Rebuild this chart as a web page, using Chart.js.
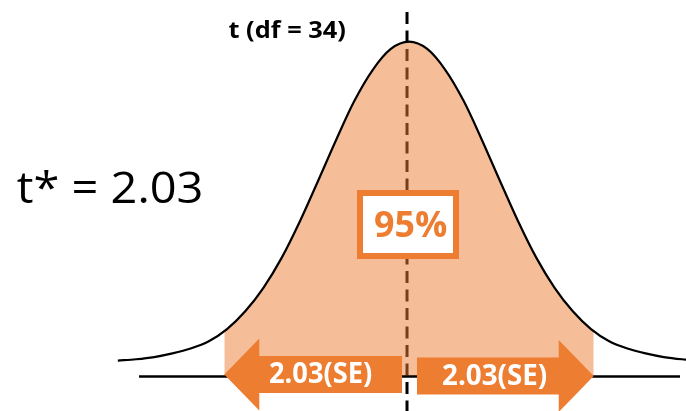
<!DOCTYPE html>
<html>
<head>
<meta charset="utf-8">
<script src="https://cdn.jsdelivr.net/npm/chart.js@4.4.1/dist/chart.umd.min.js"></script>
<style>
  html, body { margin: 0; padding: 0; background: #fff; }
  canvas { display: block; }
</style>
</head>
<body>
<canvas id="grafico" width="686" height="411"></canvas>
<script>
// t distribution, df = 34
const curveT = [-3.2, -3.0, -2.8, -2.6, -2.4, -2.2, -2.0, -1.8, -1.6, -1.4, -1.2, -1.0, -0.8, -0.6, -0.4, -0.2,
                0, 0.2, 0.4, 0.6, 0.8, 1.0, 1.2, 1.4, 1.6, 1.8, 2.0, 2.2, 2.4, 2.6, 2.8, 3.0, 3.2];
const curveDensity = [0.0012, 0.0028, 0.0055, 0.010, 0.016, 0.025, 0.040, 0.062, 0.091, 0.128, 0.173, 0.223, 0.274, 0.322, 0.360, 0.386,
                      0.395, 0.386, 0.360, 0.322, 0.274, 0.223, 0.173, 0.128, 0.091, 0.062, 0.040, 0.025, 0.016, 0.010, 0.0055, 0.0028, 0.0012];

// shaded middle 95%
const tStar = 2.03;
const shadeT = [-2.03, -1.8, -1.6, -1.4, -1.2, -1.0, -0.8, -0.6, -0.4, -0.2, 0, 0.2, 0.4, 0.6, 0.8, 1.0, 1.2, 1.4, 1.6, 1.8, 2.03];
const shadeDensity = [0.037, 0.062, 0.091, 0.128, 0.173, 0.223, 0.274, 0.322, 0.360, 0.386, 0.395, 0.386, 0.360, 0.322, 0.274, 0.223, 0.173, 0.128, 0.091, 0.062, 0.037];

// axis line and centre line
const axisT = [-2.967, 2.978];
const axisY = -0.0185;
const centreT = -0.022;
const centreY = [0.4317, -0.07];

// texts
const titleText = "t (df = 34)";
const critText = "t* = 2.03";
const pctText = "95%";
const seText = "2.03(SE)";

const ORANGE = "#ED7D31";

function pts(xs, ys) {
    return xs.map((x, i) => ({ x: x, y: ys[i] }));
}

// draw text squeezed/stretched to a given ink width
function fitText(ctx, text, left, baseline, width, font, color) {
    ctx.save();
    ctx.font = font;
    ctx.textAlign = "left";
    ctx.textBaseline = "alphabetic";
    const m = ctx.measureText(text);
    const ink = m.actualBoundingBoxRight + m.actualBoundingBoxLeft;
    const k = width / ink;
    ctx.translate(left + m.actualBoundingBoxLeft * k, baseline);
    ctx.scale(k, 1);
    ctx.fillStyle = color;
    ctx.fillText(text, 0, 0);
    ctx.restore();
}

function drawArrow(ctx, xTip, xTail, yc) {
    const dir = xTail > xTip ? 1 : -1;
    const headLen = 35, headHalf = 36, bodyHalf = 18.5;
    const xb = xTip + dir * headLen;
    ctx.beginPath();
    ctx.moveTo(xTip, yc);
    ctx.lineTo(xb, yc - headHalf);
    ctx.lineTo(xb, yc - bodyHalf);
    ctx.lineTo(xTail, yc - bodyHalf);
    ctx.lineTo(xTail, yc + bodyHalf);
    ctx.lineTo(xb, yc + bodyHalf);
    ctx.lineTo(xb, yc + headHalf);
    ctx.closePath();
    ctx.fillStyle = ORANGE;
    ctx.fill();
}

const anotaciones = {
    id: "anotaciones",
    afterDatasetsDraw(chart) {
        const ctx = chart.ctx;
        const xs = chart.scales.x;

        // 95% box
        ctx.save();
        ctx.fillStyle = "#fff";
        ctx.fillRect(357, 190, 102, 69);
        ctx.strokeStyle = ORANGE;
        ctx.lineWidth = 6;
        ctx.strokeRect(360, 193, 96, 63);
        ctx.restore();

        // arrows from the centre out to -t* and +t*
        drawArrow(ctx, xs.getPixelForValue(-tStar), 402, 374.5);
        drawArrow(ctx, xs.getPixelForValue(tStar), 417, 376);

        fitText(ctx, pctText, 375, 236.7, 71.7, 'bold 35px "Open Sans"', ORANGE);
        fitText(ctx, seText, 270, 383.3, 101.7, 'bold 28px "Open Sans"', "#fff");
        fitText(ctx, seText, 443, 384.5, 103.7, 'bold 28px "Open Sans"', "#fff");
        fitText(ctx, titleText, 228.5, 37.5, 116.5, 'bold 23px "Open Sans"', "#000");
        fitText(ctx, critText, 16.7, 203.3, 185, '43px "Open Sans"', "#000");
    }
};

const ctx = document.getElementById("grafico").getContext("2d");
new Chart(ctx, {
    type: "line",
    data: {
        datasets: [
            {
                label: "eje",
                data: pts(axisT, [axisY, axisY]),
                borderColor: "#000",
                borderWidth: 2.6,
                pointRadius: 0,
                fill: false,
                order: 0
            },
            {
                label: "t (df = 34)",
                data: pts(curveT, curveDensity),
                borderColor: "#000",
                borderWidth: 2.2,
                pointRadius: 0,
                cubicInterpolationMode: "monotone",
                fill: false,
                order: 1
            },
            {
                label: "95%",
                data: pts(shadeT, shadeDensity),
                borderColor: "rgba(0,0,0,0)",
                borderWidth: 0,
                backgroundColor: "rgba(237,125,49,0.5)",
                pointRadius: 0,
                cubicInterpolationMode: "monotone",
                fill: { value: axisY },
                order: 2
            },
            {
                label: "centro",
                data: pts([centreT, centreT], centreY),
                borderColor: "#000",
                borderWidth: 3,
                borderDash: [12, 6.5],
                borderCapStyle: "butt",
                pointRadius: 0,
                fill: false,
                order: 3
            }
        ]
    },
    options: {
        responsive: false,
        animation: false,
        devicePixelRatio: 1,
        layout: { padding: 0 },
        plugins: { legend: { display: false }, tooltip: { enabled: false } },
        scales: {
            x: { type: "linear", min: -4.495, max: 3.044, display: false },
            y: { min: -0.0611, max: 0.4465, display: false }
        }
    },
    plugins: [anotaciones]
});
</script>
</body>
</html>
